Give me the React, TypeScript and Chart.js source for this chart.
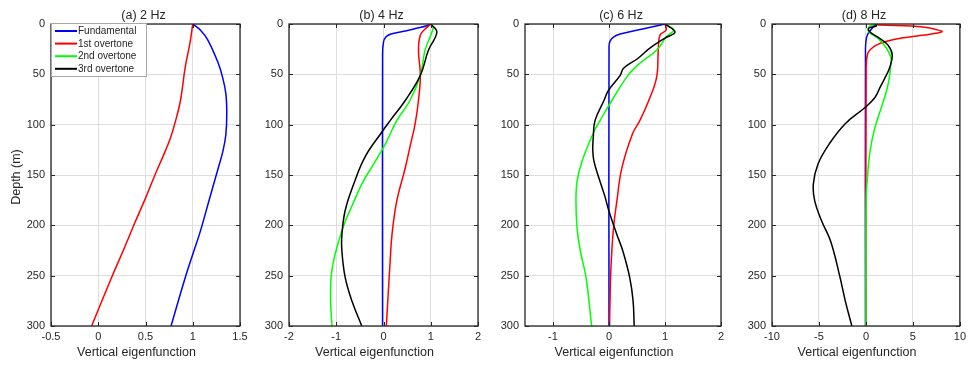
import React, { useEffect, useRef } from "react";
import { Chart, registerables } from "chart.js";

Chart.register(...registerables);

// ---------- DATA ----------
const SERIES_NAMES = ["Fundamental", "1st overtone", "2nd overtone", "3rd overtone"];
const SERIES_COLORS = ["#0000ff", "#ff0000", "#00ff00", "#000000"];
const DEPTH_TICKS = [0, 50, 100, 150, 200, 250, 300];

const PANEL_TITLES = ["(a) 2 Hz", "(b) 4 Hz", "(c) 6 Hz", "(d) 8 Hz"];
const X_TITLE = "Vertical eigenfunction";
const Y_TITLE = "Depth (m)";

const xTicksA = [-0.5, 0, 0.5, 1, 1.5];
const xTicksB = [-2, -1, 0, 1, 2];
const xTicksC = [-1, 0, 1, 2];
const xTicksD = [-10, -5, 0, 5, 10];

// (a) 2 Hz
const aFundDepth = [0, 6, 16, 39, 51, 69, 90, 110, 126, 143, 176, 206, 226, 252, 300];
const aFundVal = [1.0, 1.08, 1.16, 1.27, 1.31, 1.35, 1.36, 1.35, 1.32, 1.27, 1.17, 1.08, 1.01, 0.92, 0.77];
const aFirstDepth = [0, 19, 43, 76, 99, 113, 126, 150, 173, 199, 226, 252, 300];
const aFirstVal = [1.0, 0.97, 0.92, 0.87, 0.81, 0.765, 0.71, 0.6, 0.5, 0.38, 0.26, 0.14, -0.07];

// (b) 4 Hz
const bFundDepth = [0, 2, 4, 6.7, 10, 13, 18, 30, 300];
const bFundVal = [1.0, 0.9, 0.72, 0.49, 0.16, 0.05, 0.0, -0.02, -0.02];
const bFirstDepth = [0, 5, 11, 26, 51, 76, 99, 120, 143, 176, 209, 236, 300];
const bFirstVal = [1.0, 0.88, 0.78, 0.74, 0.78, 0.74, 0.67, 0.57, 0.46, 0.28, 0.18, 0.14, 0.06];
const bSecondDepth = [0, 4, 26, 51, 76, 96, 119, 140, 159, 180, 196, 216, 236, 252, 275, 300];
const bSecondVal = [1.0, 1.05, 0.88, 0.78, 0.56, 0.28, 0.04, -0.22, -0.46, -0.66, -0.81, -0.95, -1.06, -1.11, -1.12, -1.09];
const bThirdDepth = [0, 8, 26, 51, 76, 96, 107, 132, 159, 185, 209, 226, 252, 275, 300];
const bThirdVal = [1.0, 1.13, 0.95, 0.78, 0.46, 0.14, -0.03, -0.39, -0.63, -0.81, -0.88, -0.88, -0.81, -0.67, -0.46];

// (c) 6 Hz
const cFundDepth = [0, 5, 10, 13, 17, 22, 300];
const cFundVal = [1.0, 0.6, 0.2, 0.08, 0.02, 0.0, 0.0];
const cFirstDepth = [0, 6, 11, 26, 53, 76, 96, 109, 143, 176, 203, 236, 270, 300];
const cFirstVal = [1.0, 1.02, 0.91, 0.88, 0.85, 0.71, 0.55, 0.42, 0.23, 0.14, 0.08, 0.04, 0.02, 0.01];
const cSecondDepth = [0, 6, 13, 26, 39, 51, 76, 96, 107, 136, 156, 176, 203, 226, 252, 300];
const cSecondVal = [1.0, 1.15, 1.02, 0.85, 0.55, 0.34, 0.05, -0.16, -0.27, -0.48, -0.57, -0.59, -0.57, -0.51, -0.41, -0.31];
const cThirdDepth = [0, 8, 14, 24, 34, 44, 51, 66, 76, 96, 112, 125, 136, 153, 170, 186, 209, 226, 252, 275, 300];
const cThirdVal = [1.0, 1.18, 1.0, 0.73, 0.52, 0.26, 0.2, -0.01, -0.09, -0.25, -0.28, -0.29, -0.27, -0.18, -0.08, 0.0, 0.14, 0.25, 0.37, 0.43, 0.45];

// (d) 8 Hz
const dFundDepth = [0, 5, 9, 14, 25, 300];
const dFundVal = [1.0, 0.6, 0.25, 0.05, -0.05, -0.05];
const dFirstDepth = [0, 1, 2, 4, 6.7, 7.7, 9, 11, 14, 17.7, 21, 24.3, 29.3, 42.7, 300];
const dFirstVal = [1.0, 1.5, 4.8, 6.8, 7.94, 8.1, 7.6, 6.2, 3.8, 2.0, 1.1, 0.6, 0.19, 0.02, 0.0];
const dSecondDepth = [0, 3, 7.7, 14.3, 24.3, 33, 39, 52.7, 66, 82.7, 102.7, 126, 152.7, 176, 300];
const dSecondVal = [1.0, 0.35, 0.3, 1.3, 2.2, 2.65, 2.65, 2.5, 2.2, 1.65, 0.96, 0.44, 0.16, 0.02, 0.0];
const dThirdDepth = [0, 2, 4, 7.7, 13.3, 21, 31, 44, 54, 63, 73, 83, 99, 119, 139, 159, 176, 196, 216, 250, 275, 300];
const dThirdVal = [1.0, 1.1, 0.3, 0.4, 1.3, 2.35, 2.8, 2.5, 2.0, 1.5, 0.96, -0.1, -2.2, -3.9, -5.1, -5.6, -5.45, -4.7, -3.75, -2.8, -2.2, -1.5];

// ---------- LAYOUT / STYLE ----------
const FONT = '"Liberation Sans", Arial, Helvetica, sans-serif';
const TEXT = "#262626";
const GRID = "#dedede";

type Series = [number[], number[]] | null;

const PANELS = [
  { title: PANEL_TITLES[0], min: -0.5, max: 1.5, ticks: xTicksA, series: [[aFundDepth, aFundVal], [aFirstDepth, aFirstVal], null, null] as Series[], left: 0, width: 265, axisW: 51, padR: 25, legend: true, yTitle: true },
  { title: PANEL_TITLES[1], min: -2, max: 2, ticks: xTicksB, series: [[bFundDepth, bFundVal], [bFirstDepth, bFirstVal], [bSecondDepth, bSecondVal], [bThirdDepth, bThirdVal]] as Series[], left: 245, width: 255, axisW: 44, padR: 22, legend: false, yTitle: false },
  { title: PANEL_TITLES[2], min: -1.5, max: 2, ticks: xTicksC, series: [[cFundDepth, cFundVal], [cFirstDepth, cFirstVal], [cSecondDepth, cSecondVal], [cThirdDepth, cThirdVal]] as Series[], left: 485, width: 255, axisW: 40, padR: 19, legend: false, yTitle: false },
  { title: PANEL_TITLES[3], min: -10, max: 10, ticks: xTicksD, series: [[dFundDepth, dFundVal], [dFirstDepth, dFirstVal], [dSecondDepth, dSecondVal], [dThirdDepth, dThirdVal]] as Series[], left: 725, width: 245, axisW: 47, padR: 7, legend: false, yTitle: false },
];

function makeFramePlugin(p: typeof PANELS[number]) {
  return {
    id: "frame",
    afterDraw(chart: any) {
      const { ctx, chartArea } = chart;
      const { left, right, top, bottom } = chartArea;
      const xs = chart.scales.x;
      const ys = chart.scales.y;
      ctx.save();
      // box
      ctx.strokeStyle = TEXT;
      ctx.lineWidth = 1.3;
      ctx.strokeRect(left, top, right - left, bottom - top);
      // inward ticks
      ctx.lineWidth = 1;
      ctx.beginPath();
      const tl = 4;
      for (const v of p.ticks) {
        const px = Math.round(xs.getPixelForValue(v)) + 0.5;
        ctx.moveTo(px, bottom); ctx.lineTo(px, bottom - tl);
        ctx.moveTo(px, top); ctx.lineTo(px, top + tl);
      }
      for (const v of DEPTH_TICKS) {
        const py = Math.round(ys.getPixelForValue(v)) + 0.5;
        ctx.moveTo(left, py); ctx.lineTo(left + tl, py);
        ctx.moveTo(right, py); ctx.lineTo(right - tl, py);
      }
      ctx.stroke();
      // titles
      const cx = (left + right) / 2;
      ctx.fillStyle = TEXT;
      ctx.textAlign = "center";
      ctx.textBaseline = "alphabetic";
      ctx.font = `12.5px ${FONT}`;
      ctx.fillText(p.title, cx - 2, 19);
      ctx.fillText(X_TITLE, cx - 9, 355.5);
      if (p.yTitle) {
        ctx.save();
        ctx.translate(19.5, (top + bottom) / 2 + 2);
        ctx.rotate(-Math.PI / 2);
        ctx.fillText(Y_TITLE, 0, 0);
        ctx.restore();
      }
      // legend
      if (p.legend) {
        const lx = left + 0.5, ly = top - 0.5, lw = 95, lh = 53;
        ctx.fillStyle = "#ffffff";
        ctx.fillRect(lx, ly, lw, lh);
        ctx.strokeStyle = "#a8a8a8";
        ctx.lineWidth = 1;
        ctx.strokeRect(lx, ly, lw, lh);
        ctx.font = `10px ${FONT}`;
        ctx.textAlign = "left";
        ctx.textBaseline = "middle";
        SERIES_NAMES.forEach((name, i) => {
          const yy = top + 7 + i * 12.6;
          ctx.strokeStyle = SERIES_COLORS[i];
          ctx.lineWidth = 2;
          ctx.beginPath();
          ctx.moveTo(left + 4, yy);
          ctx.lineTo(left + 26, yy);
          ctx.stroke();
          ctx.fillStyle = TEXT;
          ctx.fillText(name, left + 27, yy + 0.5);
        });
      }
      ctx.restore();
    },
  };
}

function Panel({ p }: { p: typeof PANELS[number] }) {
  const ref = useRef<HTMLCanvasElement | null>(null);
  useEffect(() => {
    if (!ref.current) return;
    const datasets: any[] = [];
    p.series.forEach((s, i) => {
      if (!s) return;
      const [depth, val] = s;
      datasets.push({
        label: SERIES_NAMES[i],
        data: depth.map((d, k) => ({ x: val[k], y: d })),
        borderColor: SERIES_COLORS[i],
        backgroundColor: SERIES_COLORS[i],
        borderWidth: 1.5,
        pointRadius: 0,
        fill: false,
        tension: 0.4,
        order: 3 - i,
      });
    });
    const chart = new Chart(ref.current, {
      type: "line",
      data: { datasets },
      options: {
        animation: false,
        responsive: false,
        indexAxis: "y",
        events: [],
        layout: { padding: { top: 24, right: p.padR, left: 0, bottom: 0 } },
        plugins: { legend: { display: false }, tooltip: { enabled: false }, title: { display: false } },
        scales: {
          x: {
            type: "linear",
            position: "bottom",
            min: p.min,
            max: p.max,
            afterBuildTicks: (s: any) => { s.ticks = p.ticks.map((v) => ({ value: v })); },
            afterFit: (s: any) => { s.height = 39; },
            grid: { color: GRID, drawTicks: false, lineWidth: 1 },
            border: { display: false },
            ticks: { padding: 4, color: TEXT, font: { family: FONT, size: 11 }, autoSkip: false, maxRotation: 0, callback: (v: any) => String(v) },
          },
          y: {
            type: "linear",
            position: "left",
            min: 0,
            max: 300,
            reverse: true,
            afterBuildTicks: (s: any) => { s.ticks = DEPTH_TICKS.map((v) => ({ value: v })); },
            afterFit: (s: any) => { s.width = p.axisW; },
            grid: { color: GRID, drawTicks: false, lineWidth: 1 },
            border: { display: false },
            ticks: { padding: 6, color: TEXT, font: { family: FONT, size: 11 }, autoSkip: false, callback: (v: any) => String(v) },
          },
        },
      } as any,
      plugins: [makeFramePlugin(p)],
    });
    return () => chart.destroy();
  }, [p]);
  return (
    <canvas
      ref={ref}
      width={p.width}
      height={365}
      style={{ position: "absolute", left: p.left, top: 0, width: p.width, height: 365 }}
    />
  );
}

export default function App() {
  return (
    <div style={{ position: "absolute", left: 0, top: 0, width: 970, height: 365, background: "#ffffff", overflow: "hidden" }}>
      {PANELS.map((p, i) => (
        <Panel key={i} p={p} />
      ))}
    </div>
  );
}
